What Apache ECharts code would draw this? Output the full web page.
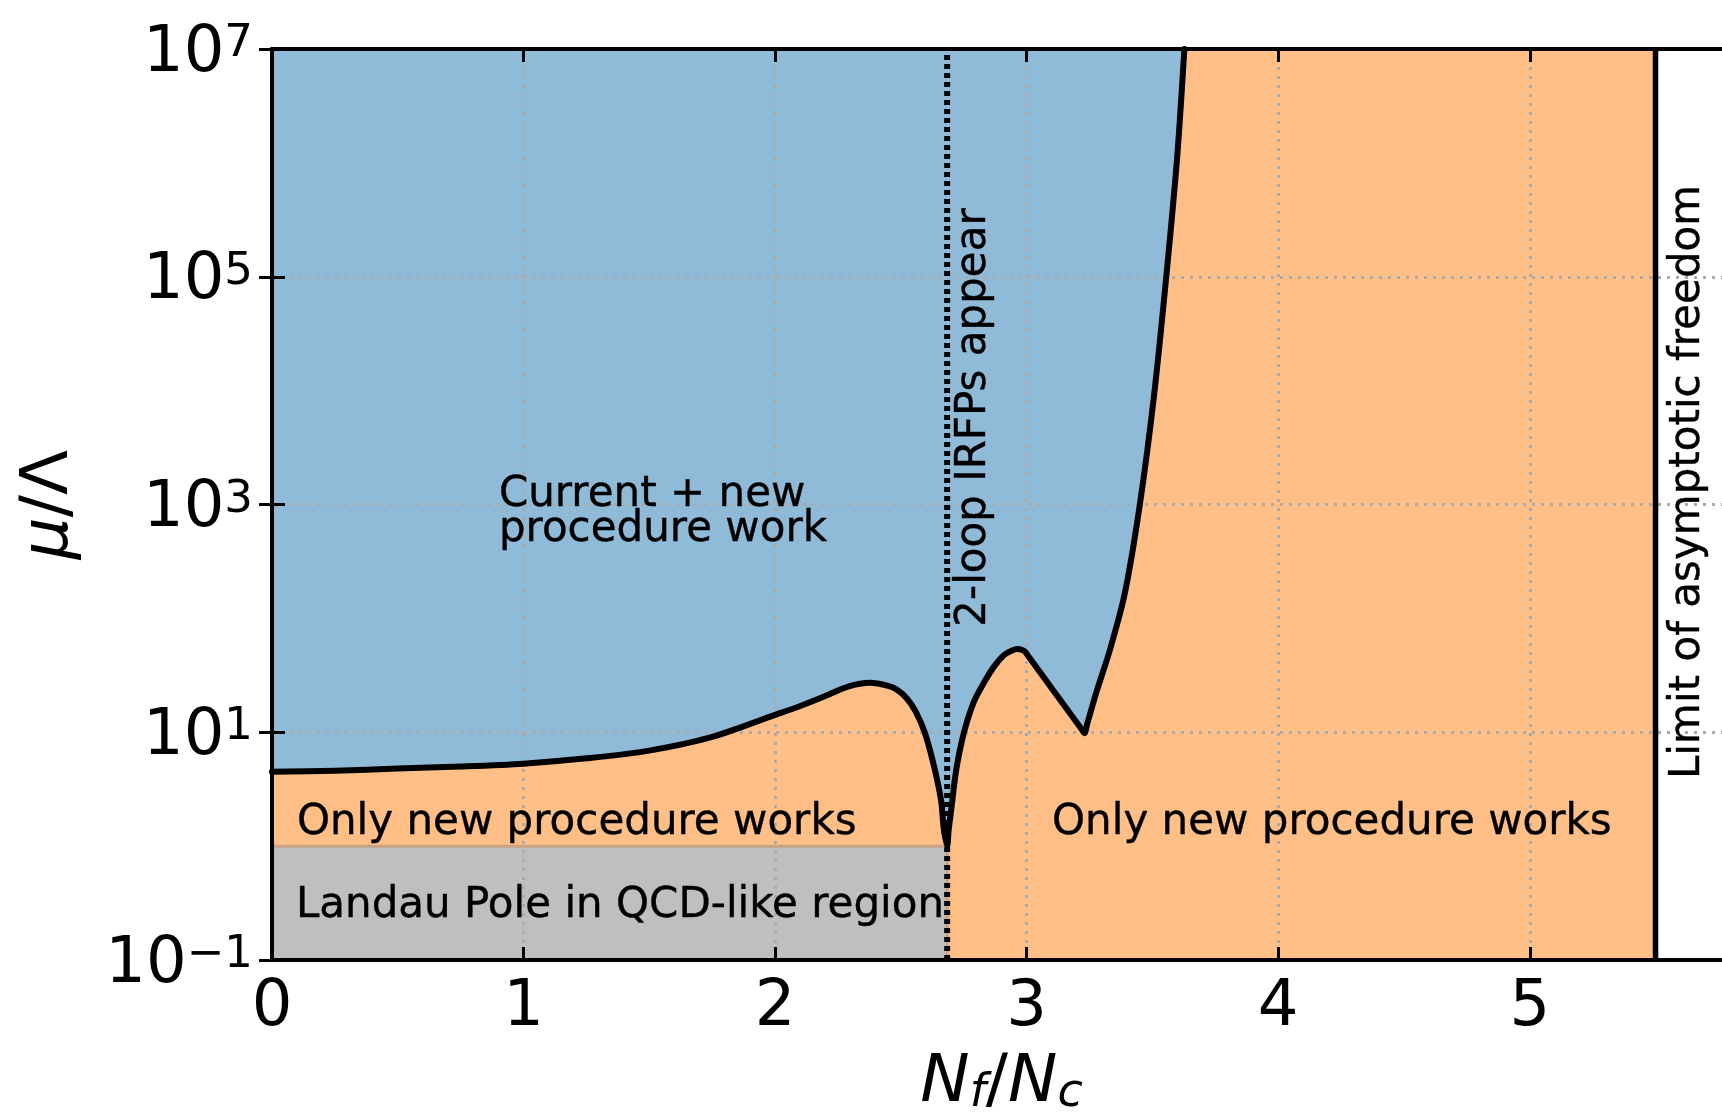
<!DOCTYPE html>
<html><head><meta charset="utf-8">
<script src="https://cdn.jsdelivr.net/npm/echarts@6/dist/echarts.min.js"></script>
<style>html,body{margin:0;padding:0;background:#fff}#c{width:1722px;height:1112px}</style>
</head><body><div id="c"></div>
<script>
// ---- data ----
const curveX = [0, 0.25, 0.5, 0.75, 1.0, 1.25, 1.5, 1.75, 2.0, 2.1, 2.2, 2.29, 2.377, 2.45, 2.486, 2.523, 2.559, 2.596, 2.632, 2.66, 2.67, 2.684,
                2.69, 2.70, 2.72, 2.75, 2.79, 2.83, 2.87, 2.91, 2.94, 2.965, 2.985, 2.994, 3.01, 3.215, 3.23, 3.24, 3.28, 3.33, 3.39, 3.45, 3.506, 3.555, 3.598, 3.627];
const curveY = [4.5, 4.6, 4.8, 5.0, 5.3, 5.9, 6.9, 9.1, 14.2, 17.0, 20.8, 25.2, 27.2, 25.5, 23.5, 19.9, 15.2, 9.8, 5.0, 2.5, 1.45, 1.0,
                1.39, 2.07, 4.66, 9.8, 18.5, 27.2, 37.7, 47.7, 52, 53.8, 52.5, 51, 45.5, 10.9, 9.8, 11.7, 23.5, 52, 165, 1000, 8900, 1e5, 1.1e6, 1e7];
const grayX = [0, 2.684];
const grayY = [1, 1];
const irfpX = 2.684;      // 2-loop IRFPs appear
const afLimitX = 5.5;     // limit of asymptotic freedom
const xMin = 0, xMax = 5.8, xStep = 1;
const yMin = 0.1, yMax = 1e7;
const annoText = ['Current + new\nprocedure work', 'Only new procedure works', 'Only new procedure works',
                  'Landau Pole in QCD-like region', '2-loop IRFPs appear', 'Limit of asymptotic freedom'];
const annoX = [0.902, 0.099, 3.101, 0.095, 2.79, 5.63];
const annoY = [843, 1.58, 1.58, 0.297, 5808, 1578];
const annoRot = [0, 0, 0, 0, 90, 90];

// ---- chart ----
const FONT = 'DejaVu Sans';
const chart = echarts.init(document.getElementById('c'), null, {renderer: 'canvas'});
const curve = curveX.map((x, i) => [x, curveY[i]]);
const gray = grayX.map((x, i) => [x, grayY[i]]);
const supText = e => (e < 0 ? '\u2212' + (-e) : String(e));
const SMOOTH = 0.3;

const axisLineStyle = {color: '#000', width: 4};
const tickStyle = {show: true, inside: true, length: 13, lineStyle: {color: '#000', width: 3}};
const gridLineStyle = {color: '#aaaaaa', width: 3, type: [3, 6]};

const option = {
  animation: false,
  backgroundColor: '#fff',
  grid: {left: 272, top: 49, right: -9, bottom: 152, containLabel: false, outerBoundsMode: 'none'},
  xAxis: [{
    type: 'value', min: xMin, max: xMax, interval: xStep, position: 'bottom', z: 5,
    axisLine: {show: true, lineStyle: axisLineStyle},
    axisTick: tickStyle,
    axisLabel: {fontSize: 64, fontFamily: FONT, color: '#000', margin: 16, showMaxLabel: false},
    splitLine: {show: true, lineStyle: gridLineStyle},
    name: '{i|N}{sub|f}{r|/}{i|N}{sub|c}', nameLocation: 'middle', nameGap: 91,
    nameTextStyle: {rich: {
      i: {fontSize: 66, fontStyle: 'italic', fontFamily: FONT, lineHeight: 66, color: '#000'},
      r: {fontSize: 66, fontFamily: FONT, lineHeight: 66, color: '#000'},
      sub: {fontSize: 46, fontStyle: 'italic', fontFamily: FONT, lineHeight: 36, verticalAlign: 'bottom', color: '#000'}
    }}
  }, {
    type: 'value', min: xMin, max: xMax, interval: xStep, position: 'top', z: 5,
    axisLine: {show: true, lineStyle: axisLineStyle},
    axisTick: tickStyle, axisLabel: {show: false}, splitLine: {show: false}
  }],
  yAxis: [{
    type: 'log', logBase: 10, min: yMin, max: yMax, interval: 2, position: 'left', z: 5,
    axisLine: {show: true, lineStyle: axisLineStyle},
    axisTick: tickStyle,
    axisLabel: {
      margin: 19, color: '#000', padding: [10, 0, 0, 0],
      formatter: v => '{b|10}{s|' + supText(Math.round(Math.log10(v))) + '}',
      rich: {
        b: {fontSize: 64, fontFamily: FONT, lineHeight: 64, color: '#000'},
        s: {fontSize: 45, fontFamily: FONT, lineHeight: 26, verticalAlign: 'top', color: '#000'}
      }
    },
    splitLine: {show: true, lineStyle: gridLineStyle},
    name: '{i|\u03bc}{r|/\u039b}', nameLocation: 'middle', nameRotate: 90, nameGap: 189,
    nameTextStyle: {rich: {
      i: {fontSize: 66, fontStyle: 'italic', fontFamily: FONT, lineHeight: 66, color: '#000'},
      r: {fontSize: 66, fontFamily: FONT, lineHeight: 66, color: '#000'}
    }}
  }, {
    type: 'log', logBase: 10, min: yMin, max: yMax, interval: 2, position: 'right', z: 5,
    axisLine: {show: true, lineStyle: axisLineStyle},
    axisTick: tickStyle, axisLabel: {show: false}, splitLine: {show: false}
  }],
  series: [
    { // orange region (below curve, up to the asymptotic-freedom limit)
      type: 'line', z: 1, silent: true, symbol: 'none',
      data: [[xMin, yMax], [afLimitX, yMax]],
      lineStyle: {width: 0}, areaStyle: {color: '#ffbf86', opacity: 1, origin: 'start'}
    },
    { // blue region above curve
      type: 'line', z: 2, silent: true, symbol: 'none', data: curve, smooth: SMOOTH,
      lineStyle: {width: 0}, areaStyle: {color: '#8fbbd9', opacity: 1, origin: 'end'}
    },
    { // gray Landau pole region
      type: 'line', z: 3, silent: true, symbol: 'none', data: gray,
      lineStyle: {width: 0}, areaStyle: {color: '#bfbfbf', opacity: 1, origin: 'start'}
    },
    { // seam between gray and orange
      type: 'line', z: 4, silent: true, symbol: 'none',
      data: [...gray, [irfpX, yMin]],
      lineStyle: {color: '#c9a285', width: 3}
    },
    { // boundary curve
      type: 'line', z: 10, silent: true, symbol: 'none', data: curve, smooth: SMOOTH,
      lineStyle: {color: '#000', width: 6, join: 'round', cap: 'round'}
    },
    { // 2-loop IRFP line
      type: 'line', z: 10, silent: true, symbol: 'none',
      data: [[irfpX, yMin], [irfpX, yMax]],
      lineStyle: {color: '#000', width: 6, type: [5, 4]}
    },
    { // asymptotic freedom limit
      type: 'line', z: 10, silent: true, symbol: 'none',
      data: [[afLimitX, yMin], [afLimitX, yMax]],
      lineStyle: {color: '#000', width: 5.5}
    },
    { // annotations
      type: 'scatter', z: 11, silent: true, symbolSize: 1,
      itemStyle: {color: 'rgba(0,0,0,0)', opacity: 1},
      data: annoText.map((t, i) => ({
        name: t, value: [annoX[i], annoY[i]],
        label: {
          show: true, position: 'inside', formatter: '{b}', rotate: annoRot[i],
          align: annoRot[i] ? 'center' : 'left', verticalAlign: 'middle',
          fontSize: 42, lineHeight: 35, fontFamily: FONT, color: '#000', opacity: 1,
          textBorderColor: '#000', textBorderWidth: 0.4
        }
      }))
    }
  ]
};
chart.setOption(option);
</script>
</body></html>
